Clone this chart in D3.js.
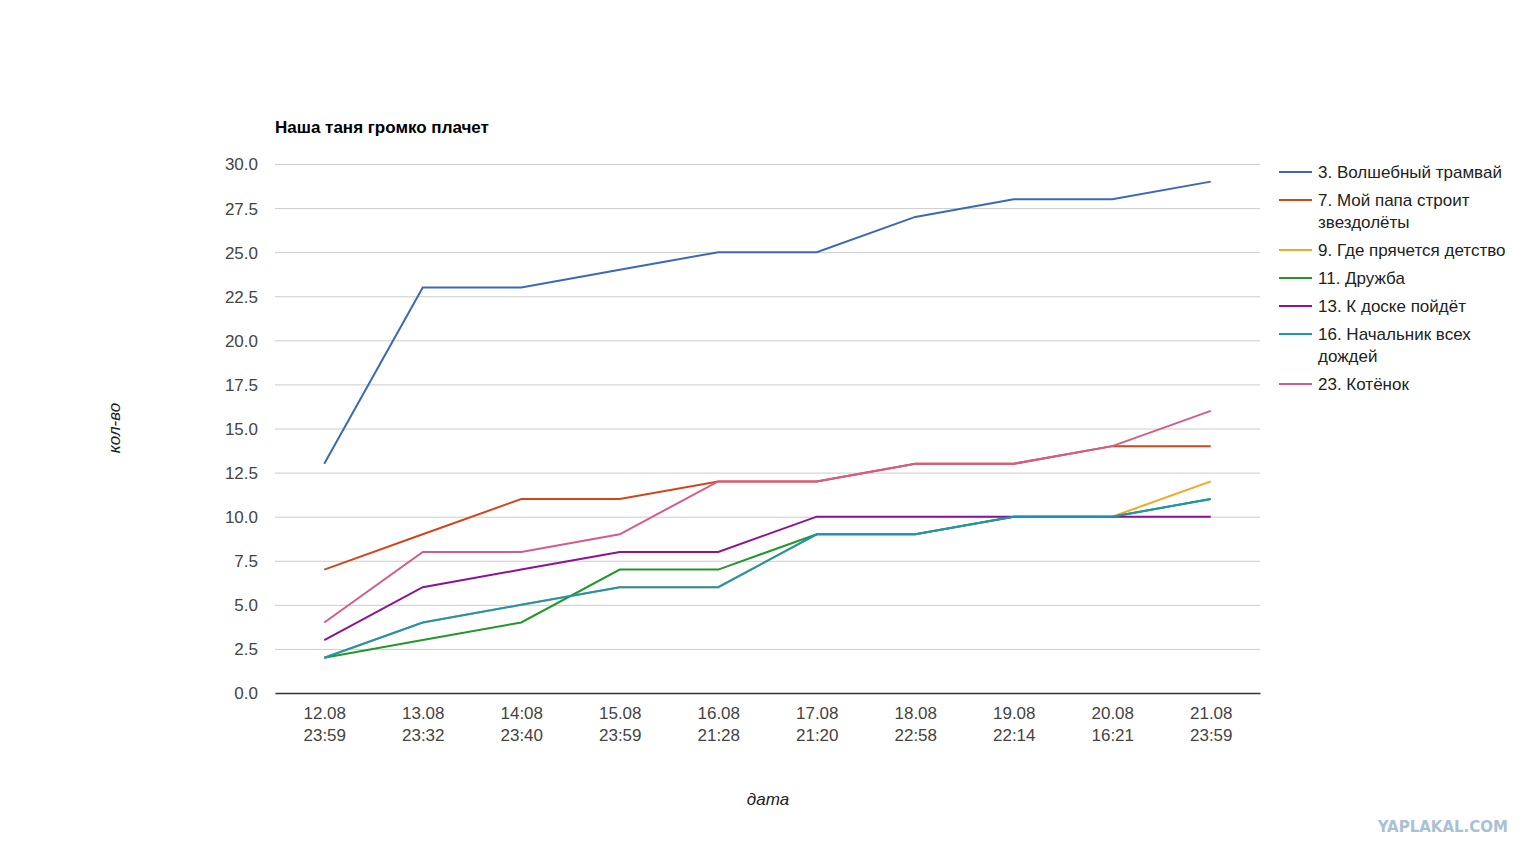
<!DOCTYPE html>
<html>
<head>
<meta charset="utf-8">
<script src="https://cdn.jsdelivr.net/npm/d3@7"></script>
<style>
  body { margin: 0; background: #fff; }
  svg { display: block; font-family: "Liberation Sans", Arial, sans-serif; }
</style>
</head>
<body>
<svg id="chart" width="1535" height="857"></svg>
<script>
// dates (ticks are two-line labels)
const dates = ["12.08|23:59", "13.08|23:32", "14:08|23:40", "15.08|23:59", "16.08|21:28",
               "17.08|21:20", "18.08|22:58", "19.08|22:14", "20.08|16:21", "21.08|23:59"];

const seriesNames = ["3. Волшебный трамвай", "7. Мой папа строит звездолёты", "9. Где прячется детство",
                     "11. Дружба", "13. К доске пойдёт", "16. Начальник всех дождей", "23. Котёнок"];

const tram      = [13, 23, 23, 24, 25, 25, 27, 28, 28, 29];
const papa      = [7, 9, 11, 11, 12, 12, 13, 13, 14, 14];
const childhood = [2, 4, 5, 6, 6, 9, 9, 10, 10, 12];
const friendship = [2, 3, 4, 7, 7, 9, 9, 10, 10, 11];
const board     = [3, 6, 7, 8, 8, 10, 10, 10, 10, 10];
const rains     = [2, 4, 5, 6, 6, 9, 9, 10, 10, 11];
const kitten    = [4, 8, 8, 9, 12, 12, 13, 13, 14, 16];

const yTicks = [0, 2.5, 5, 7.5, 10, 12.5, 15, 17.5, 20, 22.5, 25, 27.5, 30];

const colors = ["#3b68b8", "#d2461c", "#f5a623", "#24962a", "#8e1196", "#1a97b4", "#d75b8a"];
const allSeries = [tram, papa, childhood, friendship, board, rains, kitten];

const svg = d3.select("#chart");
const plotL = 275, plotR = 1260, plotT = 164, plotB = 693;

const x = d3.scalePoint().domain(dates).range([plotL, plotR]).padding(0.5);
const y = d3.scaleLinear().domain([0, 30]).range([plotB, plotT]);

// title
svg.append("text")
    .attr("x", plotL).attr("y", 133)
    .attr("font-size", 17).attr("font-weight", "bold").attr("fill", "#000")
    .text("Наша таня громко плачет");

// grid + y labels
const yAxis = svg.append("g")
    .attr("transform", "translate(" + plotL + ",0)")
    .call(d3.axisLeft(y).tickValues(yTicks).tickSize(-(plotR - plotL)).tickFormat(d3.format(".1f")));
yAxis.select(".domain").remove();
yAxis.selectAll("line").attr("stroke", "#cccccc");
yAxis.selectAll("text").attr("x", -17).attr("dy", "0.35em")
    .attr("font-size", 17).attr("fill", "#444").attr("font-family", "Liberation Sans, Arial, sans-serif");

// x labels
const xAxis = svg.append("g")
    .attr("transform", "translate(0," + plotB + ")")
    .call(d3.axisBottom(x).tickSize(0).tickFormat(""));
xAxis.select(".domain").attr("stroke", "#333").attr("stroke-width", 1.5);
xAxis.selectAll(".tick").each(function (d) {
    const parts = d.split("|");
    const t = d3.select(this).append("text")
        .attr("text-anchor", "middle").attr("font-size", 17).attr("fill", "#444")
        .attr("font-family", "Liberation Sans, Arial, sans-serif");
    t.append("tspan").attr("x", 0).attr("y", 26).text(parts[0]);
    t.append("tspan").attr("x", 0).attr("y", 48).text(parts[1]);
});

// axis titles
svg.append("text")
    .attr("transform", "translate(120,428) rotate(-90)")
    .attr("text-anchor", "middle").attr("font-size", 17).attr("font-style", "italic").attr("fill", "#222")
    .text("кол-во");
svg.append("text")
    .attr("x", 768).attr("y", 805)
    .attr("text-anchor", "middle").attr("font-size", 17).attr("font-style", "italic").attr("fill", "#222")
    .text("дата");

// lines
const line = d3.line()
    .x(function (d, i) { return x(dates[i]); })
    .y(function (d) { return y(d); });

allSeries.forEach(function (s, k) {
    svg.append("path")
        .datum(s)
        .attr("d", line)
        .attr("fill", "none")
        .attr("stroke", colors[k])
        .attr("stroke-width", 2);
});

// legend
const legendRows = [
    ["3. Волшебный трамвай"],
    ["7. Мой папа строит", "звездолёты"],
    ["9. Где прячется детство"],
    ["11. Дружба"],
    ["13. К доске пойдёт"],
    ["16. Начальник всех", "дождей"],
    ["23. Котёнок"]
];
let ly = 172;
legendRows.forEach(function (rows, k) {
    const g = svg.append("g").attr("transform", "translate(1279," + ly + ")");
    g.append("line").attr("x1", 0).attr("x2", 33).attr("y1", 0).attr("y2", 0)
        .attr("stroke", colors[k]).attr("stroke-width", 2);
    rows.forEach(function (r, j) {
        g.append("text").attr("x", 39).attr("y", j * 22).attr("dy", "0.35em")
            .attr("font-size", 17).attr("fill", "#222").text(r);
    });
    ly += 28 + (rows.length - 1) * 22;
});

// watermark
svg.append("text")
    .attr("x", 1508).attr("y", 832)
    .attr("text-anchor", "end").attr("font-size", 15).attr("font-weight", "bold")
    .attr("font-family", "DejaVu Sans, sans-serif").attr("fill", "#a9c0d6")
    .text("YAPLAKAL.COM");
</script>
</body>
</html>
